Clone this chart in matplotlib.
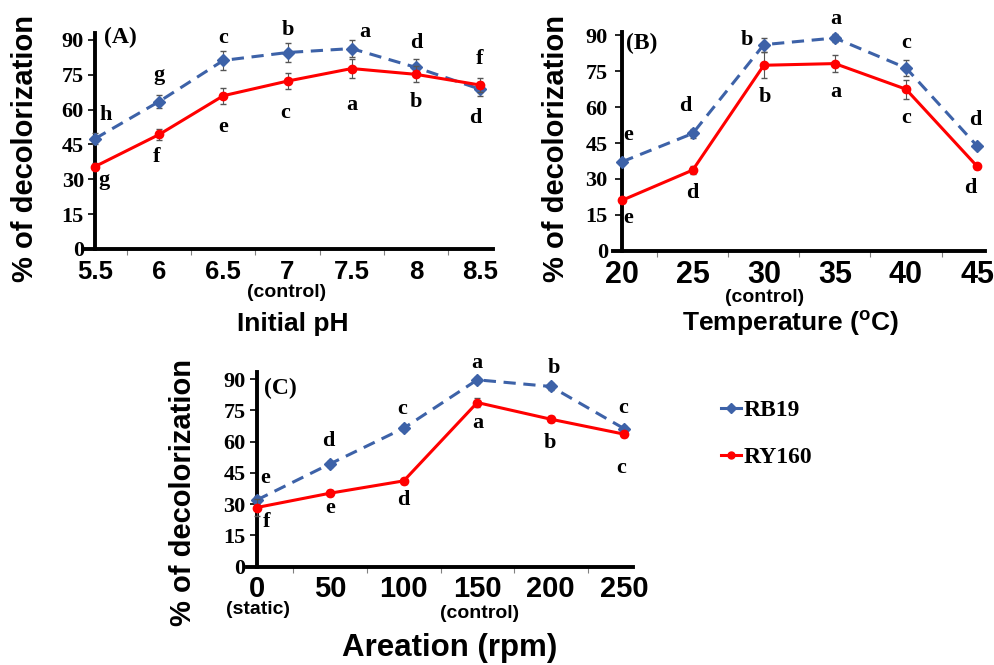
import matplotlib
matplotlib.use("Agg")
import matplotlib.pyplot as plt
from matplotlib.lines import Line2D

# ---------------- data ----------------
ph = [5.5, 6, 6.5, 7, 7.5, 8, 8.5]
ph_rb19 = [47.5, 63.5, 81.2, 84.6, 86.3, 78.2, 68.8]
ph_ry160 = [35.5, 49.3, 66.0, 72.3, 77.7, 75.2, 70.6]
ph_rb19_err = [2.5, 3.0, 4.0, 4.0, 3.5, 3.5, 3.0]
ph_ry160_err = [1.5, 2.5, 3.5, 3.5, 4.0, 3.5, 3.0]
ph_rb19_let = ['h', 'g', 'c', 'b', 'a', 'd', 'f']
ph_ry160_let = ['g', 'f', 'e', 'c', 'a', 'b', 'd']

temp = [20, 25, 30, 35, 40, 45]
temp_rb19 = [37.1, 49.0, 86.1, 88.9, 76.4, 43.8]
temp_ry160 = [21.0, 33.7, 77.5, 78.2, 67.5, 35.3]
temp_rb19_err = [1.0, 2.0, 3.0, 1.5, 3.5, 1.0]
temp_ry160_err = [1.0, 1.5, 5.5, 3.5, 4.0, 1.0]
temp_rb19_let = ['e', 'd', 'b', 'a', 'c', 'd']
temp_ry160_let = ['e', 'd', 'b', 'a', 'c', 'd']

rpm = [0, 50, 100, 150, 200, 250]
rpm_rb19 = [32.0, 49.4, 66.5, 89.7, 86.5, 66.2]
rpm_ry160 = [28.4, 35.3, 41.2, 78.8, 70.8, 63.6]
rpm_rb19_err = [2.0, 1.5, 1.5, 1.5, 1.5, 1.5]
rpm_ry160_err = [4.0, 1.5, 1.5, 2.0, 1.5, 1.5]
rpm_rb19_let = ['e', 'd', 'c', 'a', 'b', 'c']
rpm_ry160_let = ['f', 'e', 'd', 'a', 'b', 'c']

yticks = [0, 15, 30, 45, 60, 75, 90]

# ---------------- style ----------------
BLUE = '#3D62A8'
RED = '#FF0000'
SERIF = 'Liberation Serif'
SANS = 'Liberation Sans'
plt.rcParams['mathtext.fontset'] = 'custom'
plt.rcParams['mathtext.bf'] = 'Liberation Sans:bold'
plt.rcParams['mathtext.rm'] = 'Liberation Sans'

W, H = 994, 665
fig = plt.figure(figsize=(W / 100, H / 100), dpi=100)


def px_axes(x0, y0, x1, y1):
    return fig.add_axes([x0 / W, 1 - y1 / H, (x1 - x0) / W, (y1 - y0) / H])


def style_axes(ax, xs, xlim, ylim, xfs, yfs, xpad, ypad=3):
    ax.set_xlim(*xlim)
    ax.set_ylim(*ylim)
    for s in ['top', 'right']:
        ax.spines[s].set_visible(False)
    ax.spines['left'].set_position(('data', xs[0]))
    ax.spines['left'].set_linewidth(2.8)
    ax.spines['bottom'].set_linewidth(2.8)
    ax.set_yticks(yticks)
    ax.set_yticklabels([str(v) for v in yticks], fontfamily=SERIF,
                       fontweight='bold', fontsize=yfs)
    ax.set_xticks(xs)
    ax.set_xticklabels([('%g' % v) for v in xs], fontfamily=SANS,
                       fontweight='bold', fontsize=xfs)
    mids = [(a + b) / 2 for a, b in zip(xs[:-1], xs[1:])]
    ax.set_xticks(mids, minor=True)
    ax.tick_params(axis='x', which='major', length=0, pad=xpad)
    ax.tick_params(axis='x', which='minor', length=4, width=0.8,
                   color='#808080', direction='out')
    ax.tick_params(axis='y', which='major', length=5, width=1.2,
                   direction='out', pad=ypad)
    ax.patch.set_alpha(0)


def plot_series(ax, xs, rb, rbe, ry, rye):
    ax.errorbar(xs, rb, yerr=rbe, color=BLUE, ls=(0, (4, 2.5)), lw=2.2,
                marker='D', ms=6, mfc=BLUE, mec=BLUE, ecolor='#555555',
                elinewidth=0.8, capsize=2, clip_on=False, zorder=3)
    ax.errorbar(xs, ry, yerr=rye, color=RED, ls='-', lw=2.2,
                marker='o', ms=6, mfc=RED, mec=RED, ecolor='#555555',
                elinewidth=0.8, capsize=2, clip_on=False, zorder=4)


def letters(ax, xs, vals, labs, dx, dy):
    for x, v, l, a, b in zip(xs, vals, labs, dx, dy):
        ax.text(x + a, v + b, l, ha='center', va='center',
                fontfamily=SERIF, fontweight='bold', fontsize=16)


# ---------- Panel A ----------
axA = px_axes(83, 33, 493, 249)
style_axes(axA, ph, (5.4065, 8.601), (0, 93), 18.5, 16, 8)
plot_series(axA, ph, ph_rb19, ph_rb19_err, ph_ry160, ph_ry160_err)
letters(axA, ph, ph_rb19, ph_rb19_let,
        [0.08, 0, 0, 0, 0.1, 0, 0], [10.2, 11.5, 9.5, 9.7, 7.2, 10.3, 13.2])
letters(axA, ph, ph_ry160, ph_ry160_let,
        [0.07, -0.02, 0, -0.02, 0, 0, -0.04],
        [-5.7, -9.5, -13.3, -13.8, -15.7, -11.7, -14.3])
fig.text(120 / W, 1 - 37 / H, '(A)', ha='center', va='center',
         fontfamily=SERIF, fontweight='bold', fontsize=17)

# ---------- Panel B ----------
axB = px_axes(613, 32, 985, 250.7)
style_axes(axB, temp, (19.39, 45.56), (0, 91.4), 22, 16, 7, ypad=5)
plot_series(axB, temp, temp_rb19, temp_rb19_err, temp_ry160, temp_ry160_err)
letters(axB, temp, temp_rb19, temp_rb19_let,
        [0.47, -0.5, -1.2, 0.07, 0, -0.1], [11.2, 11.4, 2.1, 8.0, 10.4, 10.7])
letters(axB, temp, temp_ry160, temp_ry160_let,
        [0.47, 0, 0.07, 0.04, 0, -0.47], [-7.5, -9.5, -13.2, -11.9, -11.9, -9.0])
fig.text(642 / W, 1 - 43 / H, '(B)', ha='center', va='center',
         fontfamily=SERIF, fontweight='bold', fontsize=17)

# ---------- Panel C ----------
axC = px_axes(247, 371.7, 633, 566.7)
style_axes(axC, rpm, (-6.6, 255.9), (0, 93.6), 21, 16, 6)
plot_series(axC, rpm, rpm_rb19, rpm_rb19_err, rpm_ry160, rpm_ry160_err)
letters(axC, rpm, rpm_rb19, rpm_rb19_let,
        [6.1, -1.3, -1, -0.4, 2.4, -1.1], [10.8, 10.7, 9.1, 8.1, 8.9, 9.9])
letters(axC, rpm, rpm_ry160, rpm_ry160_let,
        [6.8, 0, 0, 0.7, -0.5, -2.2], [-6.8, -6.9, -9.2, -9.6, -11.5, -16.3])
fig.text(280 / W, 1 - 388 / H, '(C)', ha='center', va='center',
         fontfamily=SERIF, fontweight='bold', fontsize=17)

# ---------- axis titles ----------
ylab = dict(ha='center', va='center', rotation=90, fontfamily=SANS,
            fontweight='bold', fontsize=21)
fig.text(25 / W, 1 - 149 / H, '% of decolorization', **ylab)
fig.text(556 / W, 1 - 148 / H, '% of decolorization', **ylab)
fig.text(183 / W, 1 - 492 / H, '% of decolorization', **ylab)

fig.text(293 / W, 1 - 324 / H, 'Initial pH', ha='center', va='center',
         fontfamily=SANS, fontweight='bold', fontsize=19)
fig.text(790 / W, 1 - 324 / H, 'Temperature ($\\mathbf{^{o}}$C)', ha='center',
         va='center', fontfamily=SANS, fontweight='bold', fontsize=19)
fig.text(450 / W, 1 - 648 / H, 'Areation (rpm)', ha='center', va='center',
         fontfamily=SANS, fontweight='bold', fontsize=22.5)

sub = dict(ha='center', va='center', fontfamily=SANS, fontweight='bold',
           fontsize=14)
fig.text(287 / W, 1 - 293 / H, '(control)', **sub)
fig.text(765 / W, 1 - 297 / H, '(control)', **sub)
fig.text(258 / W, 1 - 609 / H, '(static)', **sub)
fig.text(480 / W, 1 - 614 / H, '(control)', **sub)

# ---------- legend ----------
handles = [Line2D([], [], color=BLUE, lw=2.2, marker='D', ms=5),
           Line2D([], [], color=RED, lw=2.2, marker='o', ms=5)]
fig.legend(handles, ['RB19', 'RY160'], loc='upper left',
           bbox_to_anchor=(700 / W, 1 - 378 / H), frameon=False,
           handlelength=0.85, handletextpad=0.1, labelspacing=1.1,
           prop={'family': SERIF, 'weight': 'bold', 'size': 17})

fig.savefig('out.png', dpi=100)
